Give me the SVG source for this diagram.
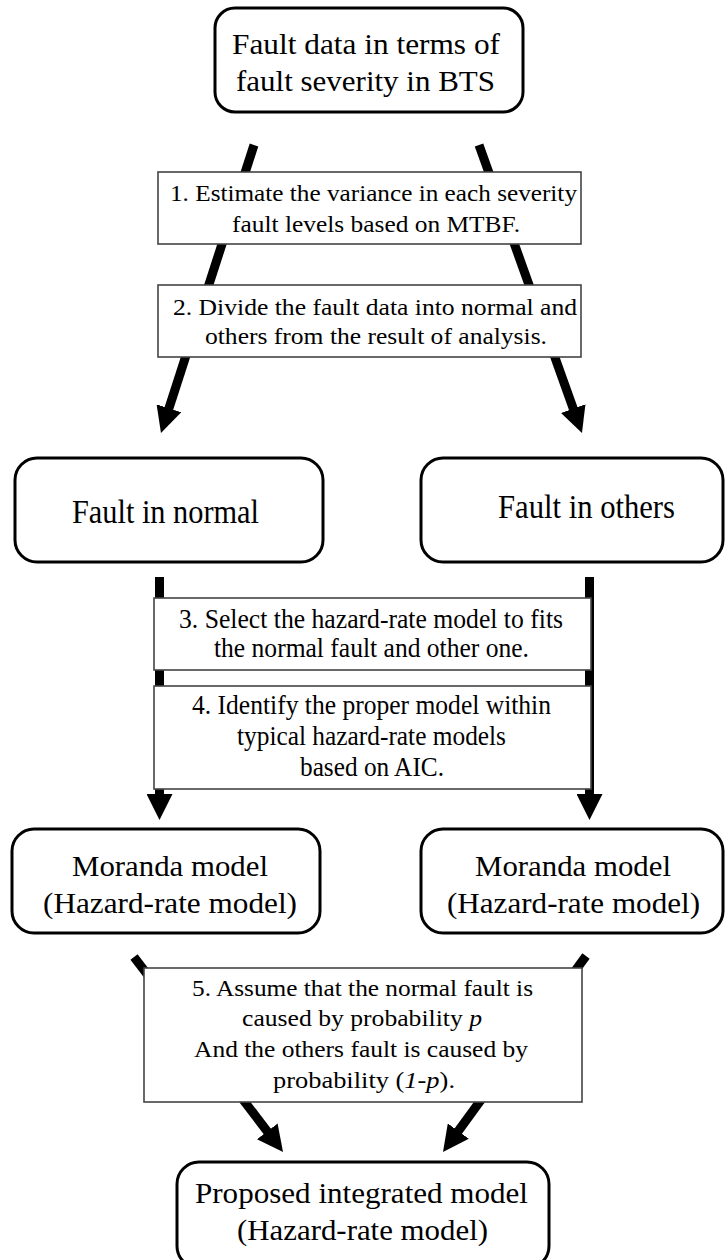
<svg xmlns="http://www.w3.org/2000/svg" width="725" height="1260" viewBox="0 0 725 1260">
<style>
.rb{fill:#fff;stroke:#000;stroke-width:3}
.sb{fill:#fff;stroke:#444;stroke-width:1.6}
.t30{font-size:30px}
.t24{font-size:24px}
.t27{font-size:27px}
.t33{font-size:33px}
.t29{font-size:29px}
.c{fill:none;stroke:#000;stroke-width:9}
</style>
<defs>
<marker id="ah" viewBox="0 0 26 26" refX="8" refY="13" markerWidth="26" markerHeight="26" markerUnits="userSpaceOnUse" orient="auto">
<path d="M0,0 L26,13 L0,26 Z" fill="#000"/>
</marker>
</defs>
<g id="connectors">
<line class="c" x1="254" y1="145" x2="166.5" y2="415.9" marker-end="url(#ah)"/>
<line class="c" x1="479" y1="145" x2="575.9" y2="416.1" marker-end="url(#ah)"/>
<line class="c" x1="159.5" y1="577" x2="159.5" y2="802" marker-end="url(#ah)"/>
<line class="c" x1="589.5" y1="577" x2="589.5" y2="802" marker-end="url(#ah)"/>
<line class="c" x1="134" y1="957" x2="272.1" y2="1137.7" marker-end="url(#ah)"/>
<line class="c" x1="586" y1="956" x2="453.6" y2="1137.5" marker-end="url(#ah)"/>
</g>
<g font-family="Liberation Serif" fill="#000">
<g id="n-top">
<rect class="rb" x="215" y="8" width="308" height="104" rx="20"/>
<text class="t30" x="232" y="54" textLength="268" lengthAdjust="spacingAndGlyphs">Fault data in terms of</text>
<text class="t30" x="236" y="91" textLength="259" lengthAdjust="spacingAndGlyphs">fault severity in BTS</text>
</g>
<g id="n-step1">
<rect class="sb" x="158" y="172" width="423" height="72"/>
<text class="t24" x="170" y="201" textLength="407" lengthAdjust="spacingAndGlyphs">1. Estimate the variance in each severity</text>
<text class="t24" x="232" y="232" textLength="288" lengthAdjust="spacingAndGlyphs">fault levels based on MTBF.</text>
</g>
<g id="n-step2">
<rect class="sb" x="158" y="285" width="423" height="72"/>
<text class="t24" x="173" y="315" textLength="404" lengthAdjust="spacingAndGlyphs">2. Divide the fault data into normal and</text>
<text class="t24" x="205" y="344" textLength="342" lengthAdjust="spacingAndGlyphs">others from the result of analysis.</text>
</g>
<g id="n-normal">
<rect class="rb" x="15" y="458" width="308" height="104" rx="22"/>
<text class="t33" x="72" y="523" textLength="187" lengthAdjust="spacingAndGlyphs">Fault  in normal</text>
</g>
<g id="n-others">
<rect class="rb" x="421" y="458" width="302" height="104" rx="22"/>
<text class="t33" x="498" y="518" textLength="177" lengthAdjust="spacingAndGlyphs">Fault  in others</text>
</g>
<g id="n-step3">
<rect class="sb" x="154" y="598" width="437" height="72"/>
<text class="t27" x="179" y="628" textLength="384" lengthAdjust="spacingAndGlyphs">3. Select the hazard-rate model to fits</text>
<text class="t27" x="214" y="657" textLength="315" lengthAdjust="spacingAndGlyphs">the normal fault and other one.</text>
</g>
<g id="n-step4">
<rect class="sb" x="154" y="686" width="437" height="103"/>
<text class="t27" x="192" y="714" textLength="359" lengthAdjust="spacingAndGlyphs">4. Identify the proper model within</text>
<text class="t27" x="237" y="745" textLength="269" lengthAdjust="spacingAndGlyphs">typical hazard-rate models</text>
<text class="t27" x="300" y="776" textLength="144" lengthAdjust="spacingAndGlyphs">based on AIC.</text>
</g>
<g id="n-moranda-left">
<rect class="rb" x="12" y="829" width="308" height="104" rx="22"/>
<text class="t29" x="72" y="876" textLength="196" lengthAdjust="spacingAndGlyphs">Moranda  model</text>
<text class="t29" x="43" y="913" textLength="254" lengthAdjust="spacingAndGlyphs">(Hazard-rate  model)</text>
</g>
<g id="n-moranda-right">
<rect class="rb" x="421" y="829" width="302" height="104" rx="22"/>
<text class="t29" x="475" y="876" textLength="196" lengthAdjust="spacingAndGlyphs">Moranda  model</text>
<text class="t29" x="447" y="913" textLength="253" lengthAdjust="spacingAndGlyphs">(Hazard-rate  model)</text>
</g>
<g id="n-step5">
<rect class="sb" x="144" y="968" width="438" height="134"/>
<text class="t24" x="192" y="996" textLength="341" lengthAdjust="spacingAndGlyphs">5. Assume that the normal fault is</text>
<text class="t24" x="242" y="1026" textLength="240" lengthAdjust="spacingAndGlyphs">caused by probability <tspan font-style="italic">p</tspan></text>
<text class="t24" x="194" y="1057" textLength="334" lengthAdjust="spacingAndGlyphs">And the others fault is caused by</text>
<text class="t24" x="273" y="1088" textLength="182" lengthAdjust="spacingAndGlyphs">probability (<tspan font-style="italic">1-p</tspan>).</text>
</g>
<g id="n-proposed">
<rect class="rb" x="177" y="1162" width="372" height="106" rx="22"/>
<text class="t29" x="195" y="1203" textLength="333" lengthAdjust="spacingAndGlyphs">Proposed  integrated  model</text>
<text class="t29" x="237" y="1240" textLength="251" lengthAdjust="spacingAndGlyphs">(Hazard-rate  model)</text>
</g>
</g>
</svg>
